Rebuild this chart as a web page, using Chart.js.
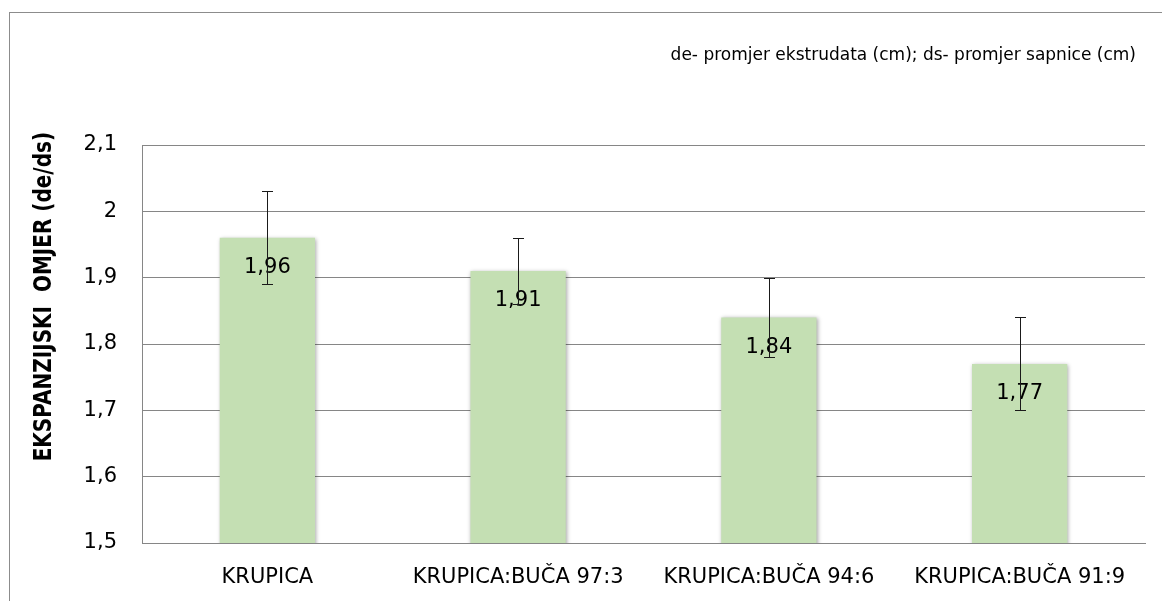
<!DOCTYPE html>
<html><head><meta charset="utf-8">
<script src="https://cdn.jsdelivr.net/npm/chart.js@4"></script>
<style>
html,body{margin:0;padding:0;background:#fff;}
#wrap{position:relative;width:1162px;height:601px;overflow:hidden;}
#frame{position:absolute;left:9px;top:12px;width:1300px;height:800px;border-left:1px solid #8c8c8c;border-top:1px solid #8c8c8c;}
canvas{position:absolute;left:0;top:0;}
</style></head><body>
<div id="wrap"><div id="frame"></div><canvas id="c" width="1162" height="601"></canvas></div>
<script>
const categories = ['KRUPICA', 'KRUPICA:BUČA 97:3', 'KRUPICA:BUČA 94:6', 'KRUPICA:BUČA 91:9'];
const values = [1.96, 1.91, 1.84, 1.77];
const errors = [0.07, 0.05, 0.06, 0.07];
const valueLabels = ['1,96', '1,91', '1,84', '1,77'];
const yTickValues = [1.5, 1.6, 1.7, 1.8, 1.9, 2.0, 2.1];
const yTickLabels = ['1,5', '1,6', '1,7', '1,8', '1,9', '2', '2,1'];
const yTitle = 'EKSPANZIJSKI  OMJER (de/ds)';
const note = 'de- promjer ekstrudata (cm); ds- promjer sapnice (cm)';

const FONT = '"DejaVu Sans", sans-serif';

const shadowPlugin = {
  id: 'barShadow',
  beforeDatasetDraw(chart) {
    const ctx = chart.ctx;
    ctx.save();
    ctx.shadowColor = 'rgba(0,0,0,0.35)';
    ctx.shadowBlur = 4;
    ctx.shadowOffsetX = 1;
    ctx.shadowOffsetY = 1;
  },
  afterDatasetDraw(chart) { chart.ctx.restore(); }
};

const overlayPlugin = {
  id: 'overlay',
  afterDatasetsDraw(chart) {
    const ctx = chart.ctx;
    const meta = chart.getDatasetMeta(0);
    const y = chart.scales.y;
    ctx.save();
    ctx.fillStyle = '#000';
    ctx.font = '21px ' + FONT;
    ctx.textAlign = 'center';
    ctx.textBaseline = 'middle';
    meta.data.forEach((bar, i) => {
      ctx.fillText(valueLabels[i], bar.x, bar.y + 30);
    });
    ctx.strokeStyle = '#1a1a1a';
    ctx.lineWidth = 1;
    meta.data.forEach((bar, i) => {
      const x = Math.round(bar.x) + 0.5;
      const yt = Math.round(y.getPixelForValue(values[i] + errors[i])) + 0.5;
      const yb = Math.round(y.getPixelForValue(values[i] - errors[i])) + 0.5;
      ctx.beginPath();
      ctx.moveTo(x, yt); ctx.lineTo(x, yb);
      ctx.moveTo(x - 5.5, yt); ctx.lineTo(x + 5.5, yt);
      ctx.moveTo(x - 5.5, yb); ctx.lineTo(x + 5.5, yb);
      ctx.stroke();
    });
    ctx.restore();
  },
  afterDraw(chart) {
    const ctx = chart.ctx;
    const a = chart.chartArea;
    ctx.save();
    ctx.fillStyle = '#000';
    ctx.font = 'bold 20px ' + FONT;
    ctx.textAlign = 'center';
    ctx.textBaseline = 'middle';
    ctx.translate(45, a.top + (a.bottom - a.top) * 0.381);
    ctx.rotate(-Math.PI / 2);
    ctx.scale(1, 1.2);
    ctx.fillText(yTitle, 0, 0);
    ctx.restore();
    ctx.save();
    ctx.fillStyle = '#000';
    ctx.font = '17px ' + FONT;
    ctx.textAlign = 'right';
    ctx.textBaseline = 'middle';
    ctx.fillText(note, 1136, 56);
    ctx.restore();
  }
};

new Chart(document.getElementById('c'), {
  type: 'bar',
  data: {
    labels: categories,
    datasets: [{
      data: values,
      backgroundColor: '#c4dfb3',
      borderWidth: 0,
      categoryPercentage: 1,
      barPercentage: 0.38
    }]
  },
  options: {
    responsive: false,
    animation: false,
    devicePixelRatio: 1,
    layout: { padding: { top: 145, right: 17, left: 0, bottom: 0 } },
    plugins: { legend: { display: false }, tooltip: { enabled: false }, title: { display: false } },
    scales: {
      x: {
        grid: { display: false, drawTicks: false },
        border: { display: true, color: '#868686', width: 1 },
        ticks: { color: '#000', font: { family: FONT, size: 21 }, padding: 22, maxRotation: 0, autoSkip: false },
        afterFit(s) { s.height = 58; }
      },
      y: {
        min: 1.5, max: 2.1,
        afterBuildTicks(s) { s.ticks = yTickValues.map(v => ({ value: v })); },
        grid: { color: '#868686', lineWidth: 1, drawTicks: false },
        border: { display: true, color: '#868686', width: 1 },
        ticks: {
          color: '#000', font: { family: FONT, size: 21 }, padding: 25,
          callback(v) { const i = yTickValues.findIndex(t => Math.abs(t - v) < 1e-6); return i >= 0 ? yTickLabels[i] : ''; }
        },
        afterFit(s) { s.width = 142; }
      }
    }
  },
  plugins: [shadowPlugin, overlayPlugin]
});
</script>
</body></html>
